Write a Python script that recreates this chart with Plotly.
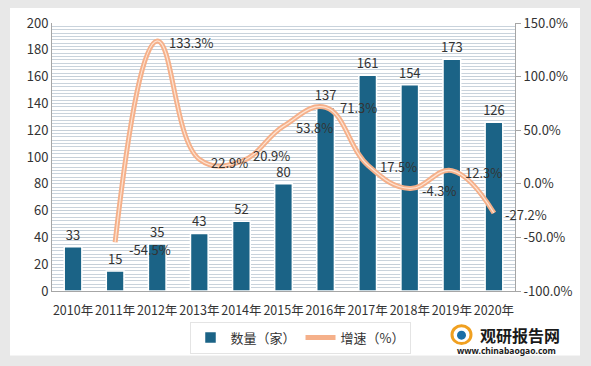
import plotly.graph_objects as go

years = ["2010年", "2011年", "2012年", "2013年", "2014年", "2015年",
         "2016年", "2017年", "2018年", "2019年", "2020年"]
counts = [33, 15, 35, 43, 52, 80, 137, 161, 154, 173, 126]
growth_years = years[1:]
growth = [-54.5, 133.3, 22.9, 20.9, 53.8, 71.3, 17.5, -4.3, 12.3, -27.2]
growth_labels = [f"{v:.1f}%" for v in growth]
right_ticks = [-100, -50, 0, 50, 100, 150]
right_ticktext = [f"{v:.1f}%" for v in right_ticks]

fig = go.Figure()

fig.add_trace(go.Bar(
    x=years, y=counts, name="数量（家）",
    marker=dict(color="#1b6386", line=dict(color="white", width=1.5)),
    width=0.42,
    text=[str(c) for c in counts], textposition="outside",
    constraintext="none",
    textfont=dict(size=13, color="#333333", family="Noto Sans CJK SC"),
    cliponaxis=False,
))

fig.add_trace(go.Scatter(
    x=growth_years, y=growth, name="增速（%）", yaxis="y2",
    mode="lines", line=dict(color="#f5b08a", width=5, shape="spline", smoothing=1.2),
    hoverinfo="skip",
))
fig.add_trace(go.Scatter(
    x=growth_years, y=growth, yaxis="y2", showlegend=False,
    mode="lines", line=dict(color="#fde3d2", width=1.2, shape="spline", smoothing=1.2),
    hoverinfo="skip",
))

# growth labels, placed to the right of each point
xshifts = [12, 10, 10, 10, 10, 12, 10, 10, 11, 9]
yshifts = [-7, -2, -3, 6, -1, 0, -1, -2, -2, -2]
for gx, gy, gl, xs, ys in zip(growth_years, growth, growth_labels, xshifts, yshifts):
    fig.add_annotation(x=gx, y=gy, xref="x", yref="y2", text=gl, showarrow=False,
                       xanchor="left", yanchor="middle", xshift=xs, yshift=ys,
                       font=dict(size=13, color="#333333", family="Noto Sans CJK SC"))

fig.add_shape(type="rect", xref="paper", yref="paper",
              x0=-42/463, x1=(580-52)/463, y0=-(358-293)/270, y1=(293-8)/270,
              fillcolor="white", line=dict(width=0), layer="below")

# logo
fig.add_shape(type="circle", xref="paper", yref="paper",
              x0=(452-52)/463, x1=(471-52)/463, y0=-(346-293)/270, y1=-(328-293)/270,
              line=dict(color="#f0a020", width=3))
fig.add_shape(type="circle", xref="paper", yref="paper",
              x0=(457-52)/463, x1=(466-52)/463, y0=-(342-293)/270, y1=-(333-293)/270,
              fillcolor="#1b6fa8", line=dict(width=0))
fig.add_annotation(xref="paper", yref="paper", x=(520-52)/463, y=-(337-293)/270,
                   xanchor="center", yanchor="middle",
                   text="<b>观研报告网</b>", showarrow=False,
                   font=dict(size=16, color="#1a1a1a", family="Noto Sans CJK SC"))
fig.add_annotation(xref="paper", yref="paper", x=(506-52)/463, y=-(353-293)/270,
                   xanchor="center", yanchor="middle",
                   text="<b>www.chinabaogao.com</b>", showarrow=False,
                   font=dict(size=8.5, color="#1a1a1a", family="Noto Sans"))

fig.update_layout(
    width=591, height=366,
    margin=dict(l=52, r=76, t=23, b=73),
    paper_bgcolor="#e8e8e8",
    plot_bgcolor="#eaf0f5",
    font=dict(family="Noto Sans CJK SC", size=13, color="#333333"),
    bargap=0.5,
    showlegend=True,
    legend=dict(orientation="h", x=(300-52)/463, y=-(340-293)/270, xanchor="center", yanchor="middle",
                bgcolor="white", bordercolor="#e4e4e4", borderwidth=1,
                font=dict(size=13, color="#333333"),
                itemwidth=30, entrywidth=0),
    xaxis=dict(
        range=[-0.5, len(years) - 0.5], autorange=False,
        tickfont=dict(size=12.5, color="#333333"), showgrid=False, tickangle=0,
        ticklabelstandoff=8,
        showline=True, linecolor="#a6a6a6", linewidth=1, ticks="",
    ),
    yaxis=dict(
        range=[0, 200], dtick=20, showgrid=True, gridcolor="#c5cfd8", gridwidth=1,
        minor=dict(dtick=2.5, showgrid=True, gridcolor="#c9d3dc", gridwidth=1),
        showline=True, linecolor="#a6a6a6", tickfont=dict(size=13, color="#333333"),
        zeroline=False, ticks="",
    ),
    yaxis2=dict(
        overlaying="y", side="right", range=[-100, 150],
        tickvals=right_ticks, ticktext=right_ticktext, showgrid=False, zeroline=False,
        showline=True, linecolor="#a6a6a6", ticks="outside", ticklen=5, tickcolor="#a6a6a6",
        tickfont=dict(size=13, color="#333333"),
    ),
)

fig.write_html("out.html", config={"displayModeBar": False},
               post_script="document.body.style.margin='0';document.body.style.padding='0';")
